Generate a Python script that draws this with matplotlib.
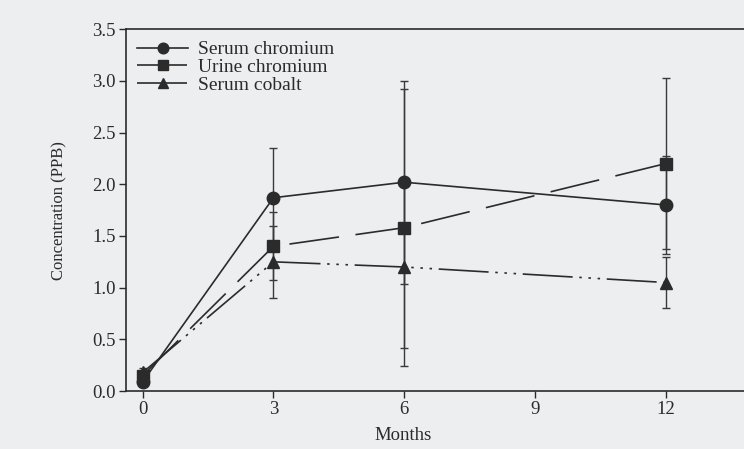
import matplotlib
matplotlib.use("Agg")
import matplotlib.pyplot as plt

# Metal ion levels over follow-up (months)
months = [0, 3, 6, 12]

serum_cr = [0.09, 1.87, 2.02, 1.80]
serum_cr_err = [0.03, 0.48, 0.98, 0.47]

urine_cr = [0.15, 1.40, 1.58, 2.20]
urine_cr_err = [0.04, 0.33, 1.34, 0.83]

serum_co = [0.18, 1.25, 1.20, 1.05]
serum_co_err = [0.04, 0.35, 0.78, 0.25]

x_ticks = [0, 3, 6, 9, 12]
y_ticks = [0.0, 0.5, 1.0, 1.5, 2.0, 2.5, 3.0, 3.5]

plt.rcParams['font.family'] = ['Liberation Serif', 'DejaVu Serif']
bg = '#eceef0'
ink = '#2b2b2b'

fig = plt.figure(figsize=(7.44, 4.49), dpi=100, facecolor=bg)
ax = fig.add_axes([0.169, 0.129, 0.831, 0.806], facecolor=bg)

series = [
    (serum_cr, serum_cr_err, 'Serum chromium', 'o', 9, None),
    (urine_cr, urine_cr_err, 'Urine chromium', 's', 8.5, (30, 10)),
    (serum_co, serum_co_err, 'Serum cobalt', '^', 9,
     (30, 4, 1.5, 4, 1.5, 4, 1.5, 4)),
]

for vals, errs, label, mk, ms, dash in series:
    ax.errorbar(months, vals, yerr=errs, fmt='none', ecolor='#3a3a3a',
                elinewidth=1.0, capsize=2.8, capthick=1.0, zorder=2)
    line, = ax.plot(months, vals, color=ink, linewidth=1.2, marker=mk,
                    markersize=ms, markerfacecolor=ink, markeredgecolor=ink,
                    label=label, zorder=3)
    if dash is not None:
        line.set_dashes(dash)

ax.set_xlim(-0.39, 13.8)
ax.set_ylim(0.0, 3.5)
ax.set_xticks(x_ticks)
ax.set_yticks(y_ticks)
ax.set_yticklabels([f'{v:.1f}' for v in y_ticks])
ax.tick_params(axis='both', direction='out', length=5, width=1.0,
               colors=ink, labelsize=13.5, pad=2)

for side in ('left', 'bottom', 'top'):
    ax.spines[side].set_linewidth(1.2)
    ax.spines[side].set_color(ink)
ax.spines['right'].set_visible(False)

ax.set_xlabel('Months', fontsize=13.5, color=ink)
ax.xaxis.set_label_coords(0.448, -0.1)
ax.set_ylabel('Concentration (PPB)', fontsize=12, color=ink)
ax.yaxis.set_label_coords(-0.095, 0.5)

leg = ax.legend(loc='upper left', bbox_to_anchor=(0.0, 1.0), frameon=False,
                fontsize=14, handlelength=2.6, handletextpad=0.5,
                labelspacing=0.0, borderaxespad=0.2, markerscale=0.85)
for t in leg.get_texts():
    t.set_color(ink)

fig.savefig('out.png', dpi=100, facecolor=bg)
